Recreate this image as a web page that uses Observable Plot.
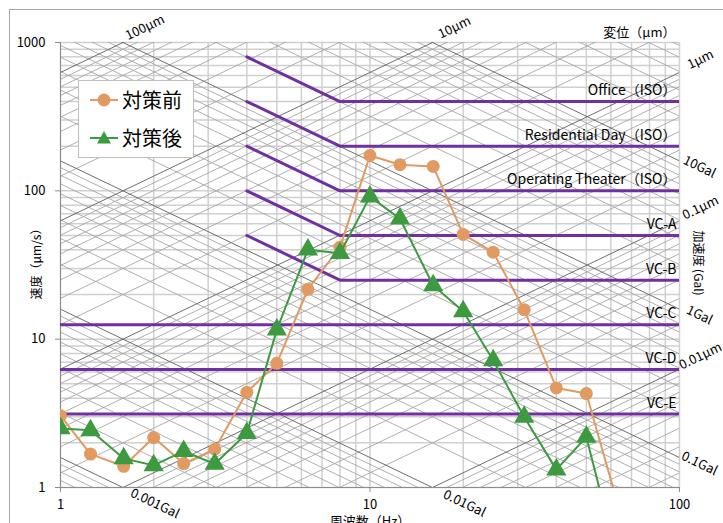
<!DOCTYPE html>
<html><head><meta charset="utf-8">
<script src="https://cdn.jsdelivr.net/npm/d3@7"></script>
<script src="https://cdn.jsdelivr.net/npm/@observablehq/plot@0.6"></script>
<style>
body{margin:0;background:#fff;}
#wrap{position:relative;width:723px;height:523px;overflow:hidden;font-family:"Noto Sans CJK JP","Noto Sans",sans-serif;}
#frame{position:absolute;left:9px;top:9px;width:800px;height:600px;border:1px solid #a6a6a6;}
#chart{position:absolute;left:0;top:0;}
#legend{position:absolute;left:78px;top:80px;width:116px;height:78px;border:1px solid #bfbfbf;background:#fff;box-sizing:border-box;}
#legend .row{position:absolute;left:10px;display:flex;align-items:center;font-size:20px;line-height:20px;color:#000;}
#legend svg{margin-right:3px;}
</style></head><body>
<div id="wrap"><div id="frame"></div><div id="chart"></div><div id="legend"></div></div>
<script>
// ---- data ----
const freqs = [1, 1.25, 1.6, 2, 2.5, 3.15, 4, 5, 6.3, 8, 10, 12.5, 16, 20, 25, 31.5, 40, 50, 63];
const before = [3.05, 1.68, 1.39, 2.17, 1.45, 1.81, 4.38, 6.87, 21.7, 41.7, 173, 150, 146, 50.8, 38.6, 15.8, 4.69, 4.30, 0.79];
const after  = [2.50, 2.43, 1.57, 1.41, 1.76, 1.44, 2.32, 11.6, 40.1, 38.0, 91.4, 64.8, 23.0, 15.4, 7.2, 2.99, 1.32, 2.19, 0.33];
const seriesNames = ["対策前", "対策後"];

const criteriaNames = ["Office（ISO）", "Residential Day（ISO）", "Operating Theater（ISO）", "VC-A", "VC-B", "VC-C", "VC-D", "VC-E"];
const criteriaLevels = [400, 200, 100, 50, 25, 12.5, 6.25, 3.125];
const criteriaStartFreq = [4, 4, 4, 4, 4, 1, 1, 1];
const criteriaStartLevel = [800, 400, 200, 100, 50, 12.5, 6.25, 3.125];
const criteriaKneeFreq = [8, 8, 8, 8, 8, 1, 1, 1];

const xTicks = [1, 10, 100];
const yTicks = [1, 10, 100, 1000];
const dispLabels = ["100μm", "10μm", "1μm", "0.1μm", "0.01μm"];
const dispDecades = [100, 10, 1, 0.1, 0.01];
const accLabels = ["10Gal", "1Gal", "0.1Gal", "0.01Gal", "0.001Gal"];
const accDecades = [10, 1, 0.1, 0.01, 0.001];
const multiples = [1, 2, 3, 4, 5, 6, 7, 8, 9];

// ---- derived ----
const fMin = 1, fMax = 100, vMin = 1, vMax = 1000;
const TWO_PI = 2 * Math.PI;
const gridX = [], gridY = [];
for (let e = 0; e < 2; e++) for (const m of multiples) gridX.push(m * 10 ** e);
gridX.push(100);
for (let e = 0; e < 3; e++) for (const m of multiples) gridY.push(m * 10 ** e);
gridY.push(1000);

// displacement lines: v = 2πfD (μm/s, μm); acceleration lines: v = A*1e4/(2πf) (Gal)
const dispLines = [], accLines = [];
for (let e = -3; e <= 2; e++) for (const m of multiples) {
  const D = m * 10 ** e;
  if (D > 0.0015 && D < 160) dispLines.push({x1: fMin, y1: TWO_PI * fMin * D, x2: fMax, y2: TWO_PI * fMax * D, major: m === 1});
}
for (let e = -4; e <= 1; e++) for (const m of multiples) {
  const A = m * 10 ** e;
  if (A > 0.0006 && A < 63) accLines.push({x1: fMin, y1: A * 1e4 / (TWO_PI * fMin), x2: fMax, y2: A * 1e4 / (TWO_PI * fMax), major: m === 1});
}
const dispLab = dispDecades.map((D, i) => {
  const fTop = vMax / (TWO_PI * D);
  return fTop <= fMax ? {edge: "top", x: fTop, y: vMax, t: dispLabels[i]} : {edge: "right", x: fMax, y: TWO_PI * fMax * D, t: dispLabels[i]};
});
const accLab = accDecades.map((A, i) => {
  const vR = A * 1e4 / (TWO_PI * fMax);
  return vR >= vMin ? {edge: "right", x: fMax, y: vR, t: accLabels[i]} : {edge: "bottom", x: A * 1e4 / (TWO_PI * vMin), y: vMin, t: accLabels[i]};
});

const crit = [];
criteriaNames.forEach((n, i) => {
  crit.push({id: i, x: criteriaStartFreq[i], y: criteriaStartLevel[i]});
  if (criteriaKneeFreq[i] !== criteriaStartFreq[i]) crit.push({id: i, x: criteriaKneeFreq[i], y: criteriaLevels[i]});
  crit.push({id: i, x: fMax, y: criteriaLevels[i]});
});
const critLab = criteriaNames.map((n, i) => ({t: n, y: criteriaLevels[i]}));

const seriesData = [
  freqs.map((f, i) => ({x: f, y: before[i]})),
  freqs.map((f, i) => ({x: f, y: after[i]}))
];
const colors = ["#E09A62", "#3D9A40"];
const purple = "#7030A0";
const ANG = Math.atan(148.5 / 309.5) * 180 / Math.PI;

const chart = Plot.plot({
  width: 723, height: 523,
  marginLeft: 60, marginRight: 44, marginTop: 42, marginBottom: 36,
  style: {fontFamily: '"Noto Sans CJK JP","Noto Sans",sans-serif', fontSize: "13px", background: "transparent", color: "#000"},
  x: {type: "log", domain: [fMin, fMax]},
  y: {type: "log", domain: [vMin, vMax]},
  marks: [
    Plot.ruleX(gridX, {stroke: "#d0d0d0", strokeWidth: 1.5}),
    Plot.ruleY(gridY, {stroke: "#d0d0d0", strokeWidth: 1.5}),
    Plot.link(dispLines.filter(d => !d.major), {x1: "x1", y1: "y1", x2: "x2", y2: "y2", stroke: "#a6a6a6", strokeWidth: 0.9, clip: true}),
    Plot.link(accLines.filter(d => !d.major), {x1: "x1", y1: "y1", x2: "x2", y2: "y2", stroke: "#a6a6a6", strokeWidth: 0.9, clip: true}),
    Plot.link(dispLines.filter(d => d.major), {x1: "x1", y1: "y1", x2: "x2", y2: "y2", stroke: "#6e6e6e", strokeWidth: 1, clip: true}),
    Plot.link(accLines.filter(d => d.major), {x1: "x1", y1: "y1", x2: "x2", y2: "y2", stroke: "#6e6e6e", strokeWidth: 1, clip: true}),
    Plot.ruleX([fMin], {stroke: "#8c8c8c", strokeWidth: 1}),
    Plot.ruleY([vMin], {stroke: "#8c8c8c", strokeWidth: 1}),
    Plot.line(crit, {x: "x", y: "y", z: "id", stroke: purple, strokeWidth: 3, clip: true}),
    Plot.text(critLab, {frameAnchor: "right", y: "y", text: "t", textAnchor: "end", dx: -3, dy: -11, fontSize: 14}),
    Plot.line(seriesData[0], {x: "x", y: "y", stroke: colors[0], strokeWidth: 2, clip: true}),
    Plot.dot(seriesData[0], {x: "x", y: "y", fill: colors[0], r: 6.5, clip: true}),
    Plot.line(seriesData[1], {x: "x", y: "y", stroke: colors[1], strokeWidth: 2, clip: true}),
    Plot.dot(seriesData[1], {x: "x", y: "y", fill: colors[1], symbol: "triangle", r: 7.5, clip: true}),
    Plot.axisX({ticks: xTicks, tickFormat: d => String(d), tickSize: 5, tickPadding: 7, stroke: "#8c8c8c", label: null, fontSize: 13}),
    Plot.axisY({ticks: yTicks, tickFormat: d => String(d), tickSize: 5, tickPadding: 10, stroke: "#8c8c8c", label: null, fontSize: 13}),
    Plot.text(dispLab.filter(d => d.edge === "top"), {x: "x", y: "y", text: "t", rotate: -ANG, dx: 22, dy: -15, fontSize: 13}),
    Plot.text(dispLab.filter(d => d.edge === "right"), {x: "x", y: "y", text: "t", rotate: -ANG, dx: 21, dy: -13, fontSize: 13}),
    Plot.text(accLab.filter(d => d.edge === "right"), {x: "x", y: "y", text: "t", rotate: ANG, dx: 20, dy: 6, fontSize: 13}),
    Plot.text(accLab.filter(d => d.edge === "bottom"), {x: "x", y: "y", text: "t", rotate: ANG, dx: 32, dy: 16, fontSize: 13}),
    Plot.text(["変位（μm）"], {frameAnchor: "top-right", text: d => d, textAnchor: "end", dx: -4, dy: -15, fontSize: 13}),
    Plot.text(["速度（μm/s）"], {frameAnchor: "left", text: d => d, textAnchor: "middle", rotate: -90, dx: -23, dy: -4, fontSize: 12}),
    Plot.text(["加速度 (Gal)"], {frameAnchor: "right", text: d => d, textAnchor: "middle", rotate: 90, dx: 18, dy: -2, fontSize: 12}),
    Plot.text(["周波数（Hz）"], {frameAnchor: "bottom", text: d => d, textAnchor: "middle", dy: 38, fontSize: 13})
  ]
});
document.getElementById("chart").appendChild(chart);

// legend
const lg = document.getElementById("legend");
seriesNames.forEach((name, i) => {
  const row = document.createElement("div");
  row.className = "row";
  row.style.top = (i === 0 ? 9 : 47) + "px";
  const sym = i === 0
    ? `<circle cx="15" cy="10" r="6.5" fill="${colors[0]}"/>`
    : `<path d="M15,3 L22,15.5 L8,15.5 Z" fill="${colors[1]}"/>`;
  row.innerHTML = `<svg width="30" height="20"><line x1="1" y1="10" x2="29" y2="10" stroke="${colors[i]}" stroke-width="2"/>${sym}</svg><span>${name}</span>`;
  lg.appendChild(row);
});
</script>
</body></html>
